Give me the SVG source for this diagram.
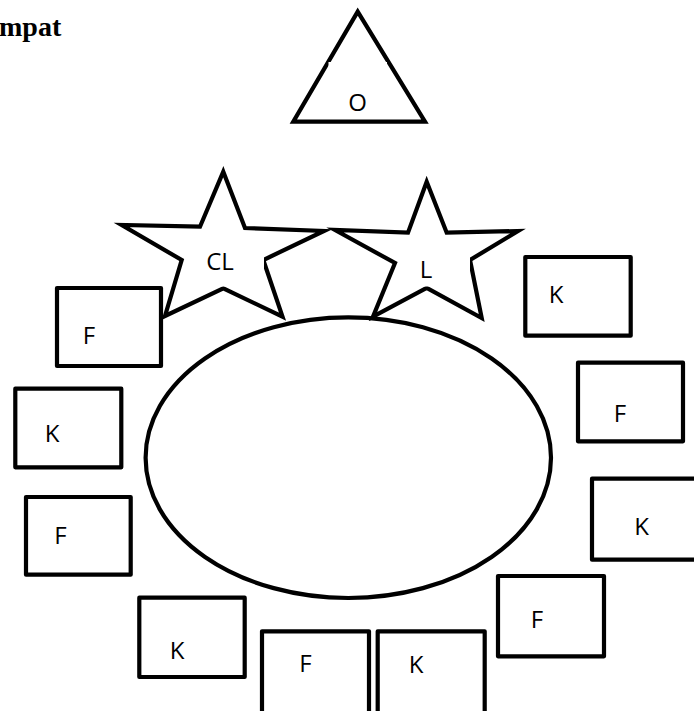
<svg xmlns="http://www.w3.org/2000/svg" width="694" height="711" viewBox="0 0 694 711">
<style>
.s{fill:#fff;stroke:#000;stroke-width:4.2;stroke-linejoin:miter;stroke-miterlimit:10}
.b{fill:#fff;stroke:#000;stroke-width:4.2;stroke-linejoin:round}
.t{font-family:"Open Sans","Noto Sans","Liberation Sans",sans-serif;font-size:24px;fill:#000;text-anchor:middle}
.h{font-family:"Liberation Serif","Times New Roman",serif;font-size:28px;font-weight:bold;fill:#000}
.m{fill:#fff;stroke:none}
</style>
<rect width="694" height="711" fill="#fff"/>
<text class="h" x="-1" y="36">mpat</text>

<g id="node-O">
<polygon class="s" points="357.7,11.7 425,121.7 293.3,121.7"/>
<rect class="m" x="328.5" y="62" width="58.5" height="55"/>
<text class="t" x="357.5" y="111">O</text>
</g>

<g id="node-ellipse">
<ellipse class="b" cx="348.3" cy="457.7" rx="202.7" ry="140.3"/>
</g>

<g id="node-F1">
<rect class="b" x="57" y="288" width="104" height="78"/>
<text class="t" x="89" y="344">F</text>
</g>

<g id="node-CL">
<polygon class="s" points="223.3,171.7 245,228 324,231 263.3,260 282.5,316.7 223.3,288.3 165,316 181.7,260 121.7,225 200,226.7"/>
<rect class="m" x="186" y="240" width="78" height="46.5"/>
<text class="t" x="220" y="270">CL</text>
</g>

<g id="node-L">
<polygon class="s" points="426.7,181.7 446.7,232.7 518,231 470,260 481.7,318 426.7,288 373,316.7 395,263 335,230 408,232.7"/>
<rect class="m" x="398" y="240" width="72" height="46.5"/>
<text class="t" x="426" y="278.3">L</text>
</g>

<g id="node-K1">
<rect class="b" x="15.3" y="388.7" width="106" height="78.6"/>
<text class="t" x="52" y="442">K</text>
</g>

<g id="node-F2">
<rect class="b" x="26" y="497" width="104.7" height="77.7"/>
<text class="t" x="60.5" y="544">F</text>
</g>

<g id="node-K2">
<rect class="b" x="525.3" y="257" width="105.4" height="78.7"/>
<text class="t" x="556" y="303">K</text>
</g>

<g id="node-F3">
<rect class="b" x="578" y="362.7" width="105" height="78.6"/>
<text class="t" x="620" y="421.7">F</text>
</g>

<g id="node-K3">
<rect class="b" x="592" y="478.7" width="106" height="81"/>
<text class="t" x="641.5" y="535">K</text>
</g>

<g id="node-F4">
<rect class="b" x="498" y="576" width="106" height="80.3"/>
<text class="t" x="537" y="627.7">F</text>
</g>

<g id="node-K4">
<rect class="b" x="139.3" y="597.7" width="105.4" height="79.3"/>
<text class="t" x="177" y="659">K</text>
</g>

<g id="node-F5">
<rect class="b" x="262" y="631.3" width="107" height="85"/>
<text class="t" x="305.5" y="671.7">F</text>
</g>

<g id="node-K5">
<rect class="b" x="377.7" y="631.3" width="107" height="85"/>
<text class="t" x="416" y="672.7">K</text>
</g>

<g id="connectors"></g>
</svg>
